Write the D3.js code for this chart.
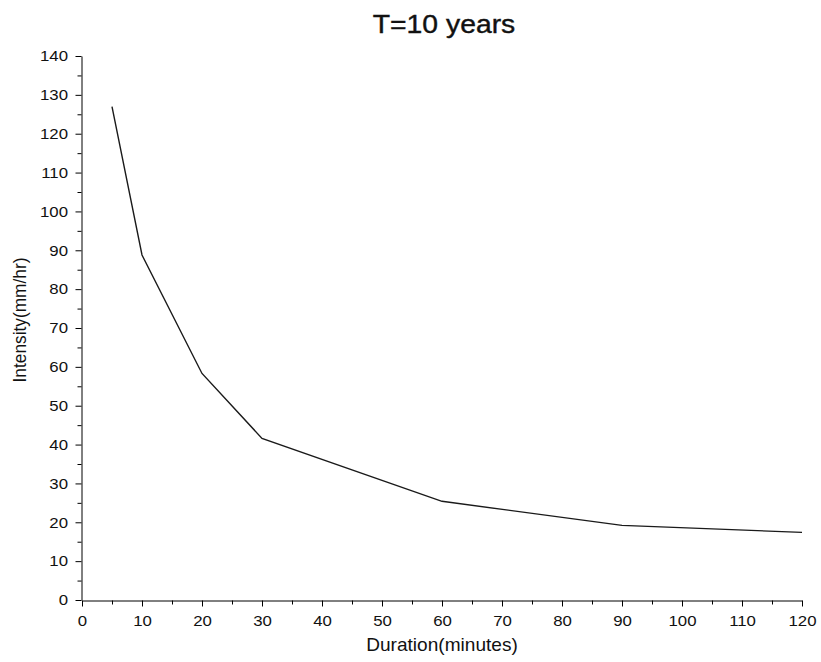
<!DOCTYPE html>
<html>
<head>
<meta charset="utf-8">
<script src="https://cdn.jsdelivr.net/npm/d3@7"></script>
<style>
  body { margin: 0; background: #fff; }
  text { font-family: "Liberation Sans", Arial, sans-serif; fill: #111; }
</style>
</head>
<body>
<div id="chart"></div>
<script>
// data
const durations = [5, 10, 20, 30, 60, 90, 120];
const intensities = [127, 88.8, 58.3, 41.6, 25.4, 19.2, 17.4];
const xTicks = [0, 10, 20, 30, 40, 50, 60, 70, 80, 90, 100, 110, 120];
const yTicks = [0, 10, 20, 30, 40, 50, 60, 70, 80, 90, 100, 110, 120, 130, 140];

const width = 821;
const height = 662;
const margin = { top: 56, bottom: 62, left: 82, right: 19 };
const sx = 1.12; // the reference text is a bit wider than normal

const svg = d3.select("#chart")
    .append("svg")
    .attr("width", width)
    .attr("height", height);

const x = d3.scaleLinear()
    .domain([0, 120])
    .range([margin.left, width - margin.right]);

const y = d3.scaleLinear()
    .domain([0, 140])
    .range([height - margin.bottom, margin.top]);

// minor ticks every 5
const xMinor = d3.range(5, 120, 10);
const yMinor = d3.range(5, 140, 10);

svg.append("g")
    .attr("transform", `translate(0,${y(0) + 0.5})`)
    .call(d3.axisBottom(x).tickValues(xMinor).tickSize(4).tickFormat(""))
    .call(g => g.select(".domain").remove());

svg.append("g")
    .attr("transform", `translate(${x(0) - 0.5},0)`)
    .call(d3.axisLeft(y).tickValues(yMinor).tickSize(4).tickFormat(""))
    .call(g => g.select(".domain").remove());

const xAxis = svg.append("g")
    .attr("transform", `translate(0,${y(0) + 0.5})`)
    .call(d3.axisBottom(x).tickValues(xTicks).tickSize(6).tickSizeOuter(0).tickPadding(9));

const yAxis = svg.append("g")
    .attr("transform", `translate(${x(0) - 0.5},0)`)
    .call(d3.axisLeft(y).tickValues(yTicks).tickSize(6).tickSizeOuter(0).tickPadding(7));

svg.selectAll(".tick line").attr("stroke", "#000");
svg.selectAll(".domain").attr("stroke", "#000");

xAxis.selectAll("text")
    .style("font-size", "15px")
    .attr("fill", "#111")
    .attr("transform", `scale(${sx},1)`);

yAxis.selectAll("text")
    .style("font-size", "15px")
    .attr("fill", "#111")
    .attr("x", -13.5 / sx)
    .attr("transform", `scale(${sx},1)`);

const line = d3.line()
    .x((d, i) => x(durations[i]))
    .y(d => y(d));

svg.append("path")
    .datum(intensities)
    .attr("fill", "none")
    .attr("stroke", "#1a1a1a")
    .attr("stroke-width", 1.4)
    .attr("d", line);

// title
svg.append("text")
    .attr("transform", `translate(444,33) scale(1.09,1)`)
    .attr("text-anchor", "middle")
    .style("font-size", "26px")
    .style("stroke", "#111")
    .style("stroke-width", 0.4)
    .text("T=10 years");

// axis labels
svg.append("text")
    .attr("transform", `translate(442,651) scale(1.09,1)`)
    .attr("text-anchor", "middle")
    .style("font-size", "17.5px")
    .text("Duration(minutes)");

svg.append("text")
    .attr("transform", `translate(26,320) scale(1.09,1) rotate(-90)`)
    .attr("text-anchor", "middle")
    .style("font-size", "17.3px")
    .text("Intensity(mm/hr)");
</script>
</body>
</html>
